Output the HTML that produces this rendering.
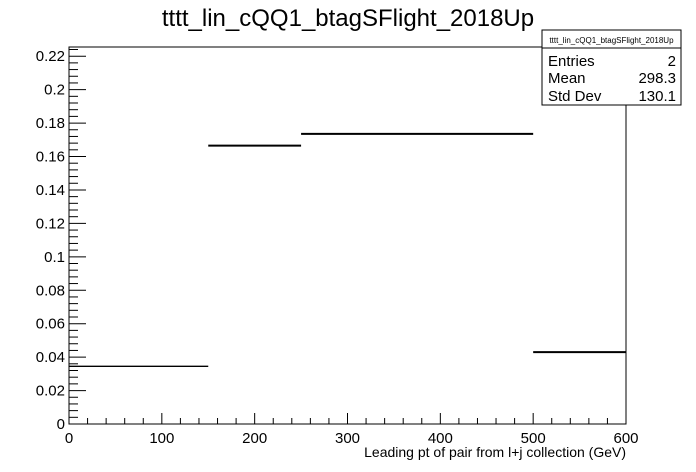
<!DOCTYPE html>
<html><head><meta charset="utf-8"><style>
body{margin:0;background:#fff;}
svg{display:block;font-family:"Liberation Sans",Arial,sans-serif;}
</style></head><body>
<svg width="696" height="472">
<rect x="0" y="0" width="696" height="472" fill="#fff"/>
<text x="348" y="26" font-size="24" text-anchor="middle">tttt_lin_cQQ1_btagSFlight_2018Up</text>
<rect x="69" y="47" width="557" height="377" fill="none" stroke="#000" stroke-width="1"/>
<g id="axes"></g>
<g id="bars"></g>
<text x="626" y="457" font-size="14" text-anchor="end">Leading pt of pair from l+j collection (GeV)</text>
<g>
<rect x="542" y="30" width="139" height="75" fill="#fff" stroke="#000"/>
<line x1="542" y1="48" x2="681" y2="48" stroke="#000"/>
<text x="611.5" y="43" font-size="8" text-anchor="middle">tttt_lin_cQQ1_btagSFlight_2018Up</text>
<text x="548" y="66" font-size="15">Entries</text>
<text x="676" y="66" font-size="15" text-anchor="end">2</text>
<text x="548" y="83" font-size="15">Mean</text>
<text x="676" y="83" font-size="15" text-anchor="end">298.3</text>
<text x="548" y="101" font-size="15">Std Dev</text>
<text x="676" y="101" font-size="15" text-anchor="end">130.1</text>
</g>
</svg>
<script>
const binEdges=[0,150,250,500,600];
const binValues=[0.0345,0.1665,0.1735,0.043];
const xTicks=[0,100,200,300,400,500,600];
const yTicks=[0,0.02,0.04,0.06,0.08,0.1,0.12,0.14,0.16,0.18,0.2,0.22];
const X0=69,X1=626,Y0=424,YT=47,XMAX=600,YMAX=0.2255;
const sx=v=>X0+v/XMAX*(X1-X0);
const sy=v=>Y0-v/YMAX*(Y0-YT);
const NS='http://www.w3.org/2000/svg';
const ax=document.getElementById('axes'),bars=document.getElementById('bars');
function line(p,x1,y1,x2,y2,w){const l=document.createElementNS(NS,'line');l.setAttribute('x1',x1);l.setAttribute('y1',y1);l.setAttribute('x2',x2);l.setAttribute('y2',y2);l.setAttribute('stroke','#000');l.setAttribute('stroke-width',w||1);p.appendChild(l);return l;}
function text(p,x,y,s,a){const t=document.createElementNS(NS,'text');t.setAttribute('x',x);t.setAttribute('y',y);t.setAttribute('font-size','15');t.setAttribute('text-anchor',a);t.textContent=s;p.appendChild(t);return t;}
for(let v=0;v<=XMAX+1e-9;v+=20){const x=sx(v);const maj=Math.abs(v%100)<1e-6;const l=line(ax,x,Y0,x,Y0-(maj?11:6));

}
xTicks.forEach(v=>{const t=text(ax,sx(v),443,String(v),'middle');

});
for(let i=0;i*0.004<=YMAX;i++){const v=i*0.004;const y=sy(v);const maj=i%5===0;const l=line(ax,X0,y,X0+(maj?17:9),y);

}
yTicks.forEach(v=>{const t=text(ax,65,sy(v)+5,String(+v.toFixed(2)),'end');

});
binValues.forEach((v,i)=>{const l=line(bars,sx(binEdges[i]),sy(v),sx(binEdges[i+1]),sy(v),i===0?1.3:2);

});
</script>
</body></html>
